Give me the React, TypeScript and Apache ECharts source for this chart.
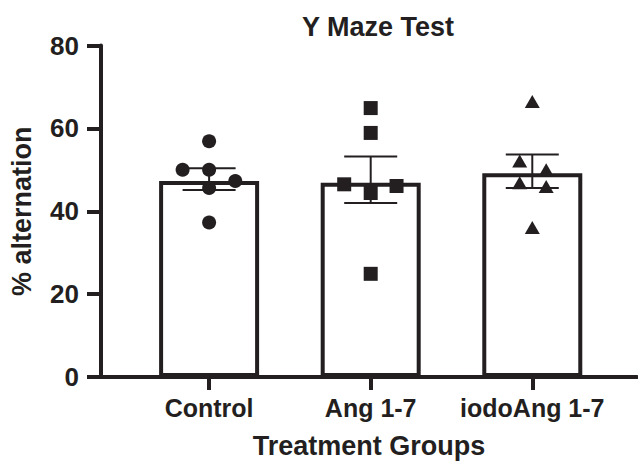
import React, { useEffect, useRef } from "react";
import * as echarts from "echarts";

// ---- data ----
const categories = ["Control", "Ang 1-7", "iodoAng 1-7"];
const barMeans = [47.3, 46.9, 49.2];
const errLow = [45.1, 42.0, 45.6];
const errHigh = [50.4, 53.2, 53.7];

const controlValues = [56.9, 50.0, 50.0, 47.3, 45.6, 37.3];
const controlJitter = [0, -0.164, 0, 0.162, 0, 0];
const angValues = [64.9, 58.9, 46.5, 44.4, 46.1, 24.9];
const angJitter = [0, 0, -0.164, 0, 0.16, 0];
const iodoValues = [66.5, 52.1, 50.0, 46.9, 46.0, 36.1];
const iodoJitter = [0, -0.078, 0.086, -0.078, 0.086, 0];

const yTicks = [0, 20, 40, 60, 80];

const INK = "#231f20";
const FONT = "'Liberation Sans', Arial, Helvetica, sans-serif";

export default function App() {
  const ref = useRef<HTMLDivElement>(null);

  useEffect(() => {
    if (!ref.current) return;
    const chart = echarts.init(ref.current, undefined, { renderer: "svg" });

    const pts = (vals: number[], jit: number[], idx: number) =>
      vals.map((v, i) => [idx + jit[i], v]);

    const option: any = {
      animation: false,
      backgroundColor: "#ffffff",
      title: {
        text: "Y Maze Test",
        left: 373,
        textAlign: "center",
        top: 8,
        textStyle: { fontFamily: FONT, fontWeight: "bold", fontSize: 27, color: INK },
      },
      grid: { left: 98, right: 1, top: 45.5, bottom: 85 },
      xAxis: {
        type: "value",
        min: -0.669,
        max: 2.648,
        name: "Treatment Groups",
        nameLocation: "middle",
        nameGap: 55,
        nameTextStyle: { fontFamily: FONT, fontWeight: "bold", fontSize: 27, color: INK },
        axisLine: { show: true, onZero: false, lineStyle: { color: INK, width: 4 } },
        axisTick: {
          show: true,
          length: 13,
          lineStyle: { color: INK, width: 4 },
          customValues: [0, 1, 2],
        },
        axisLabel: {
          customValues: [0, 1, 2],
          formatter: (v: number) => categories[Math.round(v)] ?? "",
          margin: 18,
          fontFamily: FONT,
          fontWeight: "bold",
          fontSize: 25,
          color: INK,
        },
        splitLine: { show: false },
      },
      yAxis: {
        type: "value",
        min: 0,
        max: 80,
        interval: 20,
        name: "% alternation",
        nameLocation: "middle",
        nameGap: 66,
        nameTextStyle: { fontFamily: FONT, fontWeight: "bold", fontSize: 27, color: INK },
        axisLine: { show: true, onZero: false, lineStyle: { color: INK, width: 4 } },
        axisTick: { show: true, length: 14, lineStyle: { color: INK, width: 4 } },
        axisLabel: {
          margin: 22,
          fontFamily: FONT,
          fontWeight: "bold",
          fontSize: 26,
          color: INK,
          formatter: (v: number) => (yTicks.includes(v) ? String(v) : ""),
        },
        splitLine: { show: false },
      },
      series: [
        {
          type: "bar",
          data: barMeans.map((m, i) => [i, m]),
          barWidth: 100,
          itemStyle: { color: "#ffffff", borderColor: INK, borderWidth: 4 },
          z: 2,
        },
        {
          type: "custom",
          data: categories.map((_, i) => [i, errLow[i], errHigh[i]]),
          z: 3,
          renderItem: (params: any, api: any) => {
            const x = api.value(0);
            const lo = api.coord([x, api.value(1)]);
            const hi = api.coord([x, api.value(2)]);
            const half = 26.5;
            const style = { stroke: INK, lineWidth: 2 };
            return {
              type: "group",
              children: [
                { type: "line", shape: { x1: lo[0], y1: lo[1], x2: hi[0], y2: hi[1] }, style },
                { type: "line", shape: { x1: hi[0] - half, y1: hi[1], x2: hi[0] + half, y2: hi[1] }, style },
                { type: "line", shape: { x1: lo[0] - half, y1: lo[1], x2: lo[0] + half, y2: lo[1] }, style },
              ],
            };
          },
        },
        {
          type: "scatter",
          data: pts(controlValues, controlJitter, 0),
          symbol: "circle",
          symbolSize: 14,
          itemStyle: { color: INK, opacity: 1 },
          z: 4,
        },
        {
          type: "scatter",
          data: pts(angValues, angJitter, 1),
          symbol: "rect",
          symbolSize: 14,
          itemStyle: { color: INK, opacity: 1 },
          z: 4,
        },
        {
          type: "scatter",
          data: pts(iodoValues, iodoJitter, 2),
          symbol: "triangle",
          symbolSize: [15, 13],
          itemStyle: { color: INK, opacity: 1 },
          z: 4,
        },
      ],
    };

    chart.setOption(option);
    return () => chart.dispose();
  }, []);

  return (
    <div
      ref={ref}
      style={{ position: "fixed", left: 0, top: 0, width: 638, height: 464, background: "#fff" }}
    />
  );
}
